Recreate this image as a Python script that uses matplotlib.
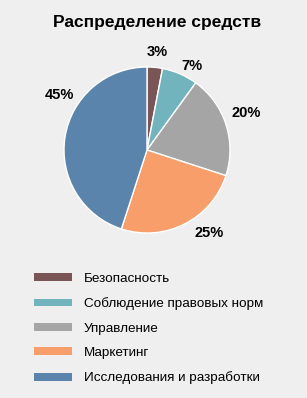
import matplotlib
matplotlib.use("Agg")
import matplotlib.pyplot as plt
from matplotlib.patches import Patch
import numpy as np

categories = ["Безопасность", "Соблюдение правовых норм", "Управление",
              "Маркетинг", "Исследования и разработки"]
values = [3, 7, 20, 25, 45]
colors = ["#7a5555", "#72b4bd", "#a5a5a5", "#f79e6b", "#5b84ad"]
title = "Распределение средств"

# label positions (angle deg, radius factor) - style only
label_pos = [(84, 1.19), (62, 1.15), (20.5, 1.27), (-53, 1.25), (148, 1.25)]

bg = "#efefef"
plt.rcParams['font.family'] = ['Liberation Sans', 'DejaVu Sans']
W, H = 307, 398
fig = plt.figure(figsize=(W/100, H/100), dpi=100, facecolor=bg)

cx, cy, r = 147, 150, 83
ax = fig.add_axes([(cx - r)/W, (H - cy - r)/H, 2*r/W, 2*r/H])
ax.set_facecolor(bg)
wedges, _ = ax.pie(values, colors=colors, startangle=90, counterclock=False,
                   radius=1, wedgeprops=dict(edgecolor="white", linewidth=1))
ax.set_xlim(-1, 1); ax.set_ylim(-1, 1)
ax.set_aspect('equal')
ax.axis('off')

for v, (ang, f) in zip(values, label_pos):
    a = np.deg2rad(ang)
    ax.text(f*np.cos(a), f*np.sin(a), f"{v}%", ha='center', va='center',
            fontsize=10.5, fontweight='bold', color='black')

fig.text(157/W, 1 - 23/H, title, ha='center', va='center', fontsize=12.5,
         fontweight='bold', color='black')

handles = [Patch(facecolor=c, edgecolor='none') for c in colors]
fig.legend(handles, categories, loc='upper left',
           bbox_to_anchor=(34/W, 1 - 273/H), frameon=False, fontsize=9.7,
           handlelength=2.8, handleheight=0.52, handletextpad=0.9,
           labelspacing=0.92, borderaxespad=0, borderpad=0)

fig.savefig("out.png", dpi=100, facecolor=bg)
